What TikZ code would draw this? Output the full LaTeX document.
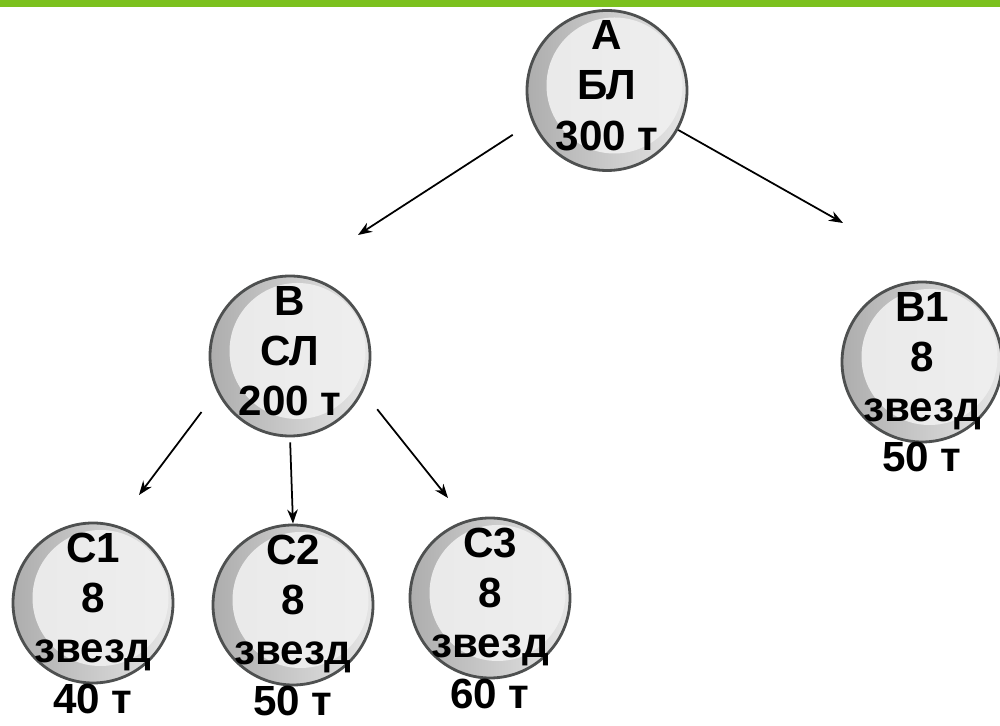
\documentclass[tikz,border=0pt]{standalone}
\usepackage{fontspec}
\setmainfont{Liberation Sans}
\usepackage{tikz}
\usetikzlibrary{arrows.meta}
\usetikzlibrary{shapes,positioning}
\definecolor{barGreen}{HTML}{7CC11E}
\definecolor{ballEdge}{HTML}{4E5050}
\tikzset{>={Stealth[length=8pt,width=6pt]},
  ball/.style={circle, draw=ballEdge, line width=1.6pt, minimum size=3.2cm,
    inner sep=0pt, left color=black!32, right color=black!10,
    path picture={\fill[black!6, opacity=.9]
      ([xshift=1.5mm,yshift=1mm]path picture bounding box.center) circle (1.36cm);}},
  lbl/.style={font=\bfseries\fontsize{24}{28.5}\selectfont, align=center,
    inner sep=0pt, anchor=north},
  arr/.style={->, line width=1pt}}

\begin{document}
\begin{tikzpicture}

  \useasboundingbox (0,0) rectangle (20,14.52);
  \fill [barGreen] (0,14.38) rectangle (20,14.52);

  \node [ball] (a) at (12.14,12.71) {};
  \node [ball] (b) at (5.80,7.40) {};
  \node [ball] (b1) at (18.44,7.28) {};
  \node [ball] (c1) at (1.86,2.46) {};
  \node [ball] (c2) at (5.86,2.42) {};
  \node [ball] (c3) at (9.80,2.56) {};

  \node [lbl] (ta) at ([yshift=14mm]a.center) {А\\БЛ\\300 т};
  \node [lbl] (tb) at ([yshift=14mm]b.center) {В\\СЛ\\200 т};
  \node [lbl] (tb1) at ([yshift=14mm]b1.center) {В1\\8\\звезд\\50 т};
  \node [lbl] (tc1) at ([yshift=14mm]c1.center) {С1\\8\\звезд\\40 т};
  \node [lbl] (tc2) at ([yshift=14mm]c2.center) {С2\\8\\звезд\\50 т};
  \node [lbl] (tc3) at ([yshift=14mm]c3.center) {С3\\8\\звезд\\60 т};

  % arrow tips stop short of the circles
  \coordinate (bin) at ([shift={(1.36,2.42)}]b.center);
  \coordinate (b1in) at ([shift={(-1.58,2.78)}]b1.center);
  \coordinate (c1in) at ([shift={(0.92,2.16)}]c1.center);
  \coordinate (c3in) at ([shift={(-0.84,2.0)}]c3.center);

  \draw [arr, shorten <=0.46cm] (a.203) -- (bin);
  \draw [arr] (a.331) -- (b1in);

  \draw [arr, shorten <=0.51cm] (b.206) -- (c1in);
  \draw [arr, shorten <=0.1cm] (b.south) -- (c2.north);
  \draw [arr, shorten <=0.45cm] (b.334) -- (c3in);

\end{tikzpicture}
\end{document}
